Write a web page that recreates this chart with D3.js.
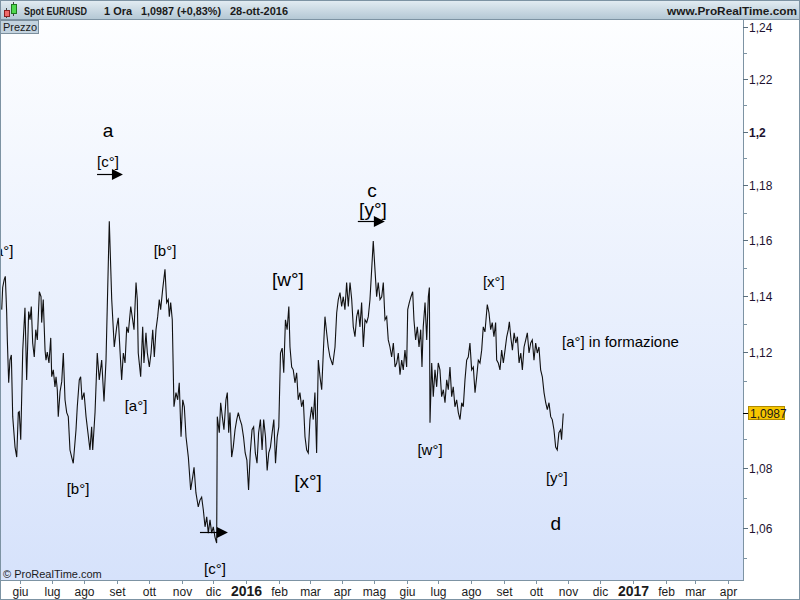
<!DOCTYPE html>
<html><head><meta charset="utf-8">
<script src="https://cdn.jsdelivr.net/npm/d3@7"></script>
<style>html,body{margin:0;padding:0;background:#fff}svg{display:block;font-family:"Liberation Sans",Arial,sans-serif}</style>
</head><body>
<svg id="c" width="800" height="600"></svg>
<script>
// ---- data (days since 1 Jun 2015, EUR/USD price) ----
const days = [-17.3,-16.4,-14.9,-13.9,-12.6,-12.0,-10.7,-9.5,-8.2,-6.9,-4.7,-3.1,-1.6,-0.7,0.7,2.6,4.7,6.3,8.2,9.5,10.7,12.0,13.5,14.9,16.4,18.3,19.9,20.5,22.0,23.7,24.6,25.8,27.4,29.1,30.0,31.5,33.1,34.1,35.3,36.2,37.9,39.5,41.0,42.6,44.2,45.7,47.3,48.9,50.4,53.0,54.2,56.1,57.4,58.7,60.6,62.5,64.3,66.2,67.8,68.8,71.0,73.1,75.0,77.3,79.5,81.4,84.5,86.8,89.2,91.5,93.0,94.6,96.2,97.8,99.4,101.0,102.5,104.8,106.6,107.9,109.8,111.0,111.9,114.2,116.1,117.3,119.2,120.5,122.4,124.0,125.6,127.1,128.7,130.3,131.8,133.1,135.0,137.2,138.8,140.3,141.3,142.6,144.1,145.7,147.6,149.2,150.7,152.4,154.0,155.5,157.1,159.3,161.5,163.4,164.7,166.5,168.7,170.3,171.9,173.5,175.1,176.7,178.2,179.8,181.4,182.9,184.5,186.1,186.7,188.6,189.9,191.8,193.0,194.9,196.2,197.5,198.7,200.3,201.8,203.5,205.1,206.6,208.2,209.8,211.5,213.1,214.7,216.3,217.9,219.6,221.1,222.7,224.3,225.8,227.5,229.1,230.6,232.3,233.9,235.4,237.0,238.6,240.2,241.8,243.4,244.9,246.5,248.1,249.6,251.2,252.8,254.4,255.5,257.1,258.6,260.2,261.8,263.3,264.9,266.5,268.1,269.7,271.3,272.8,274.4,276.0,277.5,279.1,280.7,282.3,283.9,285.5,287.0,288.6,290.2,291.7,293.3,295.9,298.1,299.7,301.2,302.8,304.4,305.9,307.5,309.1,310.7,312.3,313.9,315.4,317.0,318.6,320.1,321.7,323.3,324.9,326.5,328.1,329.6,331.2,332.8,334.3,335.9,337.5,339.0,340.7,342.3,343.8,345.4,347.0,348.5,350.1,351.7,353.3,354.9,356.5,358.0,359.6,361.2,362.7,364.3,365.9,366.9,368.4,370.0,371.6,372.8,374.4,376.0,377.6,379.2,380.4,381.6,383.3,384.9,386.4,387.4,388.0,389.6,391.1,392.7,394.3,395.8,397.4,399.0,400.6,402.2,403.8,405.3,406.9,408.5,410.0,411.6,413.2,414.8,416.4,418.0,419.5,421.1,422.7,424.2,425.8,427.4,429.0,430.6,432.2,433.7,435.3,436.9,438.4,440.0,442.2,443.8,445.4,446.9,448.5,450.1,451.1,452.6,454.2,455.8,457.4,459.0,460.6,462.1,463.1,464.4,466.0,467.6,469.2,470.7,472.3,473.9,475.4,477.0,478.6,480.1,481.7,483.3,484.8,486.4,488.0,489.5,491.1,492.7,494.3,495.9,497.5,499.0,500.6,502.2,503.7,505.3,506.9,508.4,510.0,511.6,512.5,514.1];
const prices = [1.1350,1.1429,1.1458,1.1469,1.1339,1.1243,1.1093,1.1172,1.1190,1.0976,1.0872,1.0838,1.0990,1.0993,1.0897,1.1207,1.1357,1.1103,1.1343,1.1314,1.1361,1.1232,1.1183,1.1279,1.1243,1.1414,1.1396,1.1304,1.1386,1.1207,1.1172,1.1200,1.1162,1.1250,1.1114,1.1138,1.1079,1.1114,1.1069,1.0976,1.1062,1.1097,1.1197,1.1034,1.0990,1.0976,1.0862,1.0838,1.0817,1.0931,1.1010,1.1103,1.1114,1.1034,1.1059,1.0976,1.0921,1.0862,1.0941,1.0862,1.0990,1.1197,1.1103,1.1172,1.1028,1.1172,1.1668,1.1386,1.1218,1.1289,1.1321,1.1207,1.1103,1.1197,1.1162,1.1289,1.1268,1.1361,1.1314,1.1279,1.1447,1.1386,1.1197,1.1114,1.1289,1.1162,1.1268,1.1197,1.1148,1.1197,1.1279,1.1183,1.1279,1.1325,1.1386,1.1350,1.1422,1.1494,1.1375,1.1386,1.1325,1.1375,1.1314,1.1010,1.1059,1.1034,1.1093,1.0907,1.1034,1.1010,1.0907,1.0838,1.0727,1.0770,1.0803,1.0717,1.0670,1.0693,1.0703,1.0660,1.0604,1.0637,1.0583,1.0627,1.0583,1.0604,1.0570,1.0550,1.0976,1.0921,1.1024,1.0966,1.0931,1.1034,1.1059,1.0921,1.0990,1.0838,1.0872,1.0931,1.0966,1.0990,1.0966,1.0948,1.0907,1.0852,1.0828,1.0727,1.0852,1.0931,1.0941,1.0852,1.0817,1.0921,1.0966,1.0862,1.0966,1.0907,1.0793,1.0852,1.0872,1.0921,1.0966,1.0817,1.0907,1.0941,1.1197,1.1214,1.1128,1.1314,1.1279,1.1361,1.1218,1.1148,1.1138,1.1093,1.1128,1.1034,1.1059,1.1010,1.1034,1.0907,1.0862,1.0852,1.0966,1.1010,1.0966,1.1059,1.0852,1.1172,1.1114,1.1069,1.1197,1.1325,1.1268,1.1218,1.1183,1.1155,1.1218,1.1339,1.1386,1.1411,1.1361,1.1396,1.1350,1.1447,1.1361,1.1447,1.1386,1.1289,1.1254,1.1325,1.1350,1.1289,1.1375,1.1218,1.1314,1.1304,1.1325,1.1386,1.1494,1.1596,1.1494,1.1396,1.1447,1.1386,1.1396,1.1447,1.1314,1.1325,1.1243,1.1218,1.1183,1.1232,1.1148,1.1162,1.1197,1.1121,1.1172,1.1138,1.1207,1.1148,1.1350,1.1375,1.1396,1.1414,1.1314,1.1243,1.1289,1.1218,1.1279,1.1148,1.1289,1.1375,1.1243,1.1396,1.1429,1.0955,1.1162,1.1045,1.1138,1.1079,1.1162,1.1138,1.1045,1.1069,1.1024,1.1103,1.1069,1.1148,1.1045,1.1079,1.1010,1.1034,1.0990,1.0966,1.1024,1.1010,1.1103,1.1172,1.1183,1.1232,1.1138,1.1148,1.1059,1.1114,1.1172,1.1162,1.1207,1.1289,1.1271,1.1368,1.1339,1.1279,1.1304,1.1254,1.1304,1.1172,1.1162,1.1138,1.1207,1.1162,1.1207,1.1254,1.1279,1.1307,1.1254,1.1207,1.1268,1.1232,1.1254,1.1162,1.1197,1.1138,1.1218,1.1243,1.1268,1.1197,1.1232,1.1243,1.1172,1.1232,1.1197,1.1218,1.1138,1.1114,1.1059,1.1024,1.1000,1.1024,1.0976,1.0966,1.0931,1.0872,1.0862,1.0921,1.0931,1.0897,1.0987];
const lastPrice = 1.0987;
const yMajor = [1.06,1.08,1.12,1.14,1.16,1.18,1.20,1.22,1.24]; // 1,10 hidden behind last-price box
const yMinor = [1.05,1.07,1.09,1.11,1.13,1.15,1.17,1.19,1.21,1.23];
const monthNames = ["gen","feb","mar","apr","mag","giu","lug","ago","set","ott","nov","dic"];
const headerTexts = [["Spot EUR/USD",24,63],["1 Ora",104,28],["1,0987 (+0,83%)",141,80],["28-ott-2016",230,58]];
// annotations: text, day, price, font size, anchor
const labels = [
  ["[a°]",-17,1.1542,15,"middle"],
  ["a",83.2,1.1981,19,"middle"],
  ["[c°]",83.2,1.1867,15,"middle"],
  ["c",333.0,1.1757,19,"middle"],
  ["[y°]",334.0,1.1686,19,"middle"],
  ["[b°]",137.2,1.1542,15,"middle"],
  ["[w°]",253.5,1.1436,19,"middle"],
  ["[x°]",448.4,1.1429,15,"middle"],
  ["[a°] in formazione",512.9,1.1218,15,"start"],
  ["[a°]",109.8,1.0997,15,"middle"],
  ["[x°]",272.5,1.0733,19,"middle"],
  ["[w°]",388.0,1.0845,15,"middle"],
  ["[y°]",508.0,1.0750,15,"middle"],
  ["[b°]",54.9,1.0713,15,"middle"],
  ["d",507.0,1.0593,19,"middle"],
  ["[c°]",184.5,1.0450,15,"middle"]
];
// arrows: startDay, endDay, price
const arrows = [[72.9,97.4,1.1841],[319.7,345.3,1.1671],[170.3,196.8,1.0587]];

const svg = d3.select("#c");
const T0 = Date.UTC(2015,5,1);
const toDate = d => new Date(T0 + d*864e5);

const W=800,H=600, plotL=0, plotR=743, plotT=20, plotB=580;
const x = d3.scaleUtc().domain([new Date(Date.UTC(2015,5,1)), new Date(Date.UTC(2017,3,1))]).range([20,728]);
const y = d3.scaleLog().domain([1.06,1.24]).range([528,27]);

const defs = svg.append("defs");
const g1 = defs.append("linearGradient").attr("id","bg").attr("x1",0).attr("y1",0).attr("x2",0).attr("y2",1);
g1.append("stop").attr("offset","0%").attr("stop-color","#fdfeff");
g1.append("stop").attr("offset","100%").attr("stop-color","#d6e2fb");
const g2 = defs.append("linearGradient").attr("id","hd").attr("x1",0).attr("y1",0).attr("x2",0).attr("y2",1);
g2.append("stop").attr("offset","0%").attr("stop-color","#e4edf3");
g2.append("stop").attr("offset","100%").attr("stop-color","#b4c8d5");
defs.append("clipPath").attr("id","clip").append("rect").attr("x",plotL).attr("y",plotT).attr("width",plotR-plotL).attr("height",plotB-plotT);

svg.append("rect").attr("width",W).attr("height",H).attr("fill","#fff");
svg.append("rect").attr("x",plotL).attr("y",plotT).attr("width",plotR-plotL).attr("height",plotB-plotT).attr("fill","url(#bg)");

// header
svg.append("rect").attr("x",0).attr("y",0).attr("width",W).attr("height",19).attr("fill","url(#hd)");
svg.append("line").attr("x1",0).attr("x2",W).attr("y1",19.5).attr("y2",19.5).attr("stroke","#7d93a3");
// candle icon
svg.append("line").attr("x1",6.5).attr("x2",6.5).attr("y1",8).attr("y2",18).attr("stroke","#444");
svg.append("rect").attr("x",4.5).attr("y",10.5).attr("width",5).attr("height",6).attr("fill","#f06a6a").attr("stroke","#8a2020");
svg.append("line").attr("x1",13.5).attr("x2",13.5).attr("y1",2).attr("y2",16).attr("stroke","#444");
svg.append("rect").attr("x",11.5).attr("y",4.5).attr("width",5).attr("height",9).attr("fill","#4fd84f").attr("stroke","#1f7a1f");
const hdr = svg.append("g").attr("font-size",11.5).attr("font-weight","bold").attr("fill","#1b1b1b");
headerTexts.forEach(h=>{
  hdr.append("text").attr("x",h[1]).attr("y",15).attr("textLength",h[2]).attr("lengthAdjust","spacingAndGlyphs").text(h[0]);
});
hdr.append("text").attr("x",797).attr("y",15).attr("text-anchor","end").attr("textLength",130).attr("lengthAdjust","spacingAndGlyphs").text("www.ProRealTime.com");

// price line
const line = d3.line().x((d,i)=>x(toDate(days[i]))).y((d,i)=>y(prices[i]));
svg.append("path").attr("clip-path","url(#clip)").attr("d",line(prices)).attr("fill","none").attr("stroke","#111").attr("stroke-width",1.1).attr("stroke-linejoin","miter");

// annotations
const ann = svg.append("g").attr("clip-path","url(#clip)").attr("fill","#000");
labels.forEach(l=>{
  ann.append("text").attr("x",x(toDate(l[1]))).attr("y",y(l[2])).attr("font-size",l[3]).attr("text-anchor",l[4]).text(l[0]);
});
arrows.forEach(a=>{
  const x1=x(toDate(a[0])), x2=x(toDate(a[1])), yy=Math.round(y(a[2]))+0.5;
  ann.append("line").attr("x1",x1).attr("x2",x2-8).attr("y1",yy).attr("y2",yy).attr("stroke","#000").attr("stroke-width",1.2);
  ann.append("path").attr("d",`M${x2},${yy}L${x2-11},${yy-5.5}L${x2-11},${yy+5.5}Z`).attr("fill","#000");
});

// Prezzo box
svg.append("rect").attr("x",0.5).attr("y",20.5).attr("width",38).attr("height",13).attr("fill","#c3d3df").attr("stroke","#7c8f9d");
svg.append("text").attr("x",3).attr("y",31).attr("font-size",11).attr("fill","#1b1b1b").text("Prezzo");

// copyright
svg.append("text").attr("x",3).attr("y",578).attr("font-size",11).attr("fill","#1b1b1b").text("© ProRealTime.com");

// right axis
const ax = svg.append("g");
ax.append("line").attr("x1",plotR+0.5).attr("x2",plotR+0.5).attr("y1",plotT).attr("y2",plotB).attr("stroke","#7d93a3");
yMinor.forEach(v=>{const yy=Math.round(y(v))+0.5; if(yy>plotT&&yy<plotB) ax.append("line").attr("x1",plotR).attr("x2",plotR+4).attr("y1",yy).attr("y2",yy).attr("stroke","#7d93a3");});
yMajor.forEach(v=>{
  const yy=Math.round(y(v))+0.5;
  ax.append("line").attr("x1",plotR).attr("x2",plotR+5).attr("y1",yy).attr("y2",yy).attr("stroke","#5a6f7e");
  ax.append("text").attr("x",plotR+6).attr("y",yy+4).attr("font-size",12).attr("fill","#1d1230")
    .attr("font-weight", v===1.20?"bold":"normal")
    .text(String(+v.toFixed(2)).replace(".",","));
});
// last price box
const ly = Math.round(y(lastPrice))+0.5;
ax.append("line").attr("x1",plotR).attr("x2",plotR+6).attr("y1",ly).attr("y2",ly).attr("stroke","#000");
ax.append("rect").attr("x",plotR+5.5).attr("y",ly-7).attr("width",36).attr("height",13).attr("fill","#f7c600").attr("stroke","#b08a00");
ax.append("text").attr("x",plotR+7).attr("y",ly+4).attr("font-size",12).attr("fill","#1b1b1b").text(d3.format(".4f")(lastPrice).replace(".",","));

// bottom axis
const bx = svg.append("g");
bx.append("line").attr("x1",0).attr("x2",plotR+1).attr("y1",plotB+0.5).attr("y2",plotB+0.5).attr("stroke","#7d93a3");
const months = d3.utcMonth.range(new Date(Date.UTC(2015,5,1)), new Date(Date.UTC(2017,3,2)));
months.forEach(m=>{
  const xx = Math.round(x(m))+0.5;
  bx.append("line").attr("x1",xx).attr("x2",xx).attr("y1",plotB).attr("y2",plotB+4).attr("stroke","#7d93a3");
  const jan = m.getUTCMonth()===0;
  bx.append("text").attr("x",xx).attr("y",596).attr("text-anchor","middle")
    .attr("font-size", jan?14:12).attr("font-weight", jan?"bold":"normal").attr("fill","#1b1b1b")
    .text(jan? String(m.getUTCFullYear()) : monthNames[m.getUTCMonth()]);
});

// outer frame
svg.append("rect").attr("x",0.5).attr("y",0.5).attr("width",W-1).attr("height",H-1).attr("fill","none").attr("stroke","#7d93a3");
</script>
</body></html>
